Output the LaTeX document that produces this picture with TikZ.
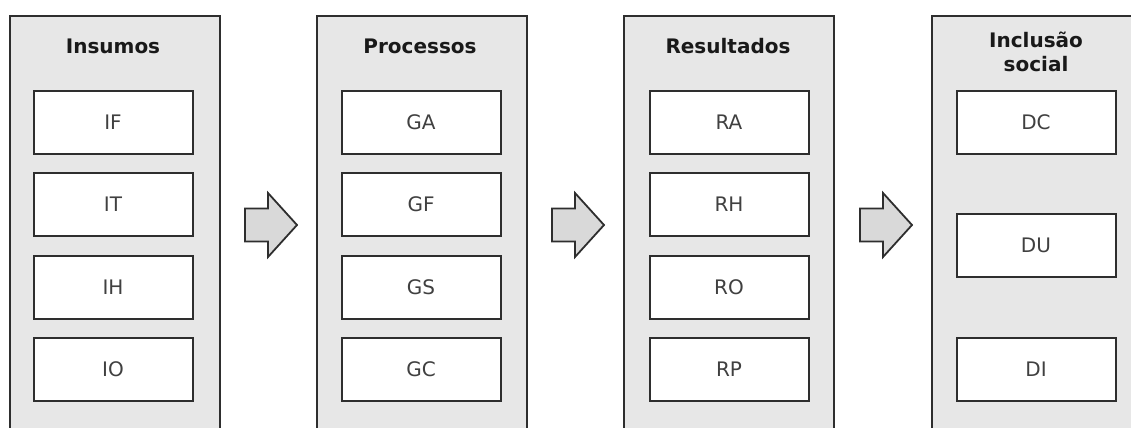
\documentclass[tikz,border=0pt]{standalone}
\usepackage{fontspec}
\setmainfont{DejaVu Sans}
\usepackage{tikz}
\definecolor{panelgray}{HTML}{E7E7E7}
\definecolor{arrowgray}{HTML}{D9D9D9}
\definecolor{edgegray}{HTML}{2E2E2E}
\tikzset{
  panel/.style={draw=edgegray, line width=1pt, fill=panelgray, anchor=north west,
    minimum width=105pt, minimum height=215pt, inner sep=0pt},
  title/.style={font=\bfseries, text=black!90, align=center},
  item/.style={draw=edgegray, line width=1pt, fill=white, text=black!75,
    minimum width=79.5pt, minimum height=31.5pt, inner sep=0pt},
  blockarrow/.style={draw=edgegray, line width=0.9pt, fill=arrowgray, line join=miter}
}
\def\blockarrow(#1,#2){\draw[blockarrow] (#1,#2-16.5) -- ++(23,0) -- ++(0,-15.5) -- ++(29,32) -- ++(-29,32) -- ++(0,-15.5) -- ++(-23,0) -- cycle;}

\begin{document}
\begin{tikzpicture}[x=0.5pt, y=-0.5pt]
				\useasboundingbox (0,0) rectangle (1131,428);
				\clip (0,0) rectangle (1131,428);
				
				\node[panel] (insumos) at (9,15) {};
				\node[title] (tinsumos) at (113,46) {Insumos};
				\node[item] (IF) at (113,122) {IF};
				\node[item] (IT) at (113,204.5) {IT};
				\node[item] (IH) at (113,287.5) {IH};
				\node[item] (IO) at (113,369.5) {IO};
				
				\blockarrow(245,225);
				
				\node[panel] (processos) at (316,15) {};
				\node[title] (tprocessos) at (420,46) {Processos};
				\node[item] (GA) at (421,122) {GA};
				\node[item] (GF) at (421,204.5) {GF};
				\node[item] (GS) at (421,287.5) {GS};
				\node[item] (GC) at (421,369.5) {GC};
				
				\blockarrow(552,225);
				
				\node[panel] (resultados) at (623,15) {};
				\node[title] (tresultados) at (728,46) {Resultados};
				\node[item] (RA) at (729,122) {RA};
				\node[item] (RH) at (729,204.5) {RH};
				\node[item] (RO) at (729,287.5) {RO};
				\node[item] (RP) at (729,369.5) {RP};
				
				\blockarrow(860,225);
				
				\node[panel] (inclusao) at (931,15) {};
				\node[title] (tinclusao) at (1036,51.5) {Inclusão\\social};
				\node[item] (DC) at (1036,122) {DC};
				\node[item] (DU) at (1036,245.5) {DU};
				\node[item] (DI) at (1036,369) {DI};
			\end{tikzpicture}
\end{document}
